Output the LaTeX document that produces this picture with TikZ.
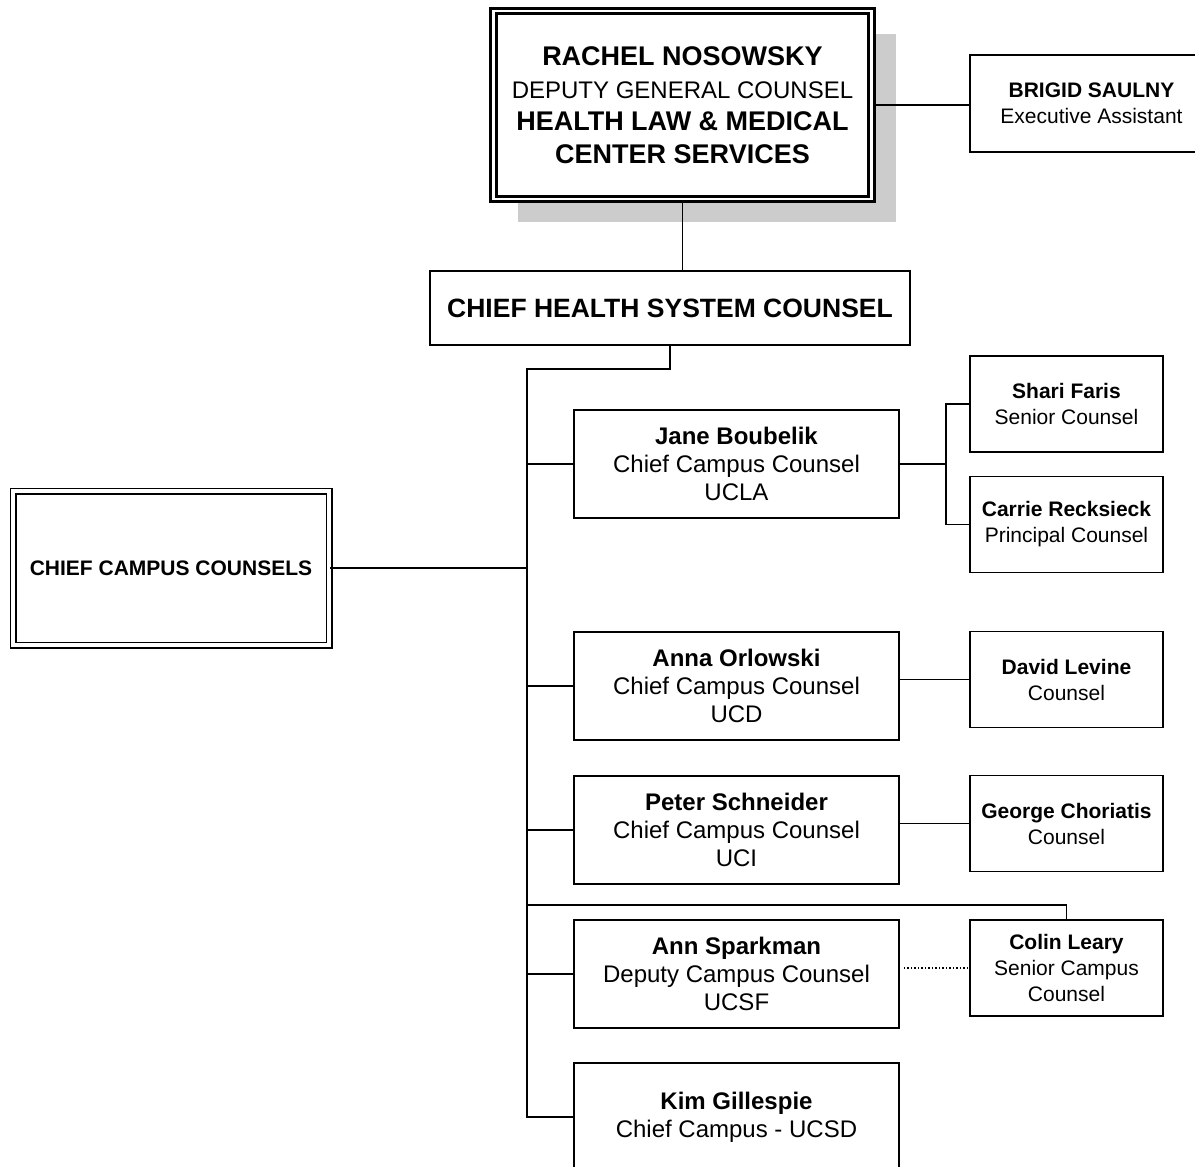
\documentclass[tikz,border=0pt]{standalone}
\usepackage{fontspec}
\setmainfont{Liberation Sans}
\usetikzlibrary{shadows}

\newcommand{\headline}[1]{{\fontsize{27}{32.5}\selectfont\bfseries #1}}

\begin{document}
\begin{tikzpicture}
    [x=1pt, y=-1pt,
    box/.style={draw, line width=1.5pt, align=center, inner sep=0pt, fill=white},
    chief/.style={box, minimum width=325pt, minimum height=108pt, font=\fontsize{24}{28}\selectfont},
    staff/.style={box, minimum width=193pt, minimum height=96pt, font=\fontsize{21}{26}\selectfont},
    link/.style={line width=1.5pt},
    trunk/.style={line width=2.5pt}]
    \useasboundingbox (0,0) rectangle (1195,1167);

    %% head of the office
    \node[box, double, line width=2.8pt, double distance=2.5pt, minimum width=378pt, minimum height=188pt,
        drop shadow={shadow xshift=24pt, shadow yshift=-23pt, fill=black!20, opacity=1},
        font=\fontsize{24}{32.5}\selectfont] (rn) at (682.5,105)
        {\headline{RACHEL NOSOWSKY}\\DEPUTY GENERAL COUNSEL\\\headline{HEALTH LAW \& MEDICAL}\\\headline{CENTER SERVICES}};
    \node[box, minimum width=243pt, minimum height=97pt, font=\fontsize{21}{26}\selectfont] (brigid) at (1091.5,103.5)
        {\textbf{BRIGID SAULNY}\\Executive Assistant};
    \node[box, minimum width=480pt, minimum height=74pt, font=\fontsize{26.5}{30}\selectfont\bfseries] (chs) at (670,308)
        {CHIEF HEALTH SYSTEM COUNSEL};
    \node[box, double, double distance=4pt, minimum width=316pt, minimum height=154pt, font=\fontsize{21}{26}\selectfont\bfseries] (ccc) at (171,568)
        {CHIEF CAMPUS COUNSELS};

    %% campus counsels
    \node[chief] (jane) at (736.5,464) {\textbf{Jane Boubelik}\\Chief Campus Counsel\\UCLA};
    \node[chief] (anna) at (736.5,686) {\textbf{Anna Orlowski}\\Chief Campus Counsel\\UCD};
    \node[chief] (peter) at (736.5,830) {\textbf{Peter Schneider}\\Chief Campus Counsel\\UCI};
    \node[chief] (ann) at (736.5,974) {\textbf{Ann Sparkman}\\Deputy Campus Counsel\\UCSF};
    \node[chief] (kim) at (736.5,1117) {\textbf{Kim Gillespie}\\Chief Campus - UCSD};

    %% their staff
    \node[staff] (shari) at (1066.5,404) {\textbf{Shari Faris}\\Senior Counsel};
    \node[staff] (carrie) at (1066.5,524.5) {\textbf{Carrie Recksieck}\\Principal Counsel};
    \node[staff] (david) at (1066.5,679.5) {\textbf{David Levine}\\Counsel};
    \node[staff] (george) at (1066.5,823.5) {\textbf{George Choriatis}\\Counsel};
    \node[staff] (colin) at (1066.5,968) {\textbf{Colin Leary}\\Senior Campus\\Counsel};

    \coordinate (trunktop) at (527,369);
    \coordinate (colinjoin) at (527,905);
    \coordinate (janefork) at (946,464);

    %% lines
    \draw[link] (rn.east) -- (rn.east -| brigid.west);
    \draw[link] (rn.south) -- (rn.south |- chs.north);
    \draw[link] (colin.north) |- (colinjoin);
    \draw[trunk] (chs.south) |- (trunktop) |- (kim.west);
    \draw[trunk] (ccc.east) -- (ccc.east -| trunktop);
    \foreach \n in {jane,anna,peter,ann}
        \draw[link] (\n.west) -- (\n.west -| trunktop);
    \draw[link] (jane.east) -- (janefork);
    \draw[link] (shari.west) -| (janefork) |- (carrie.west);
    \draw[link] (david.west) -- (david.west -| anna.east);
    \draw[link] (george.west) -- (george.west -| peter.east);
    \draw[link, dotted, shorten <=4pt] (ann.east |- colin.west) -- (colin.west);
\end{tikzpicture}
\end{document}
